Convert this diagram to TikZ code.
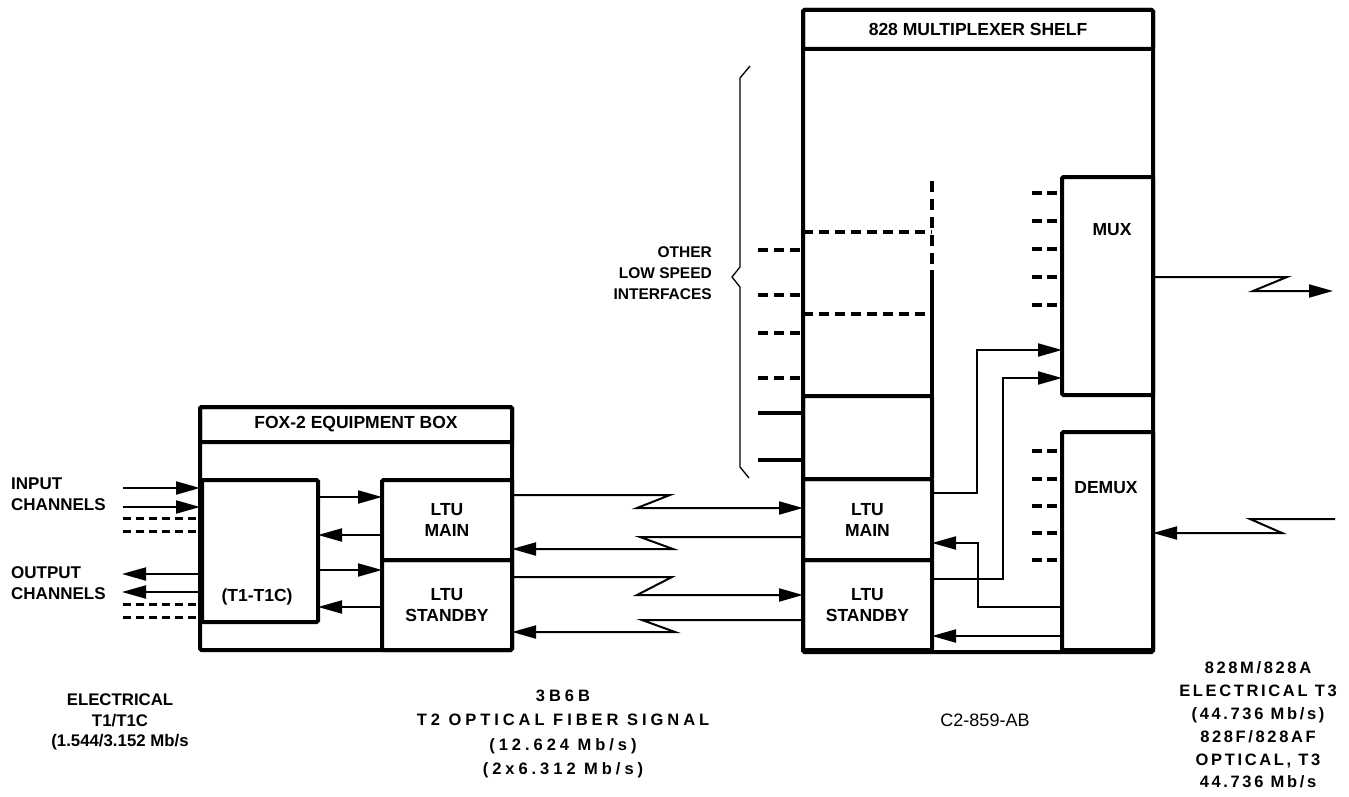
\documentclass[tikz,border=0pt]{standalone}
\usepackage{fontspec}
\setmainfont{Liberation Sans}
\newfontfamily\spacedA[LetterSpace=24]{Liberation Sans}
\newfontfamily\spacedB[LetterSpace=16]{Liberation Sans}
\usetikzlibrary{arrows.meta,calc}
\newcommand{\dlbl}{\fontsize{17.5}{21}\selectfont\bfseries}
\newcommand{\slbl}{\fontsize{17}{21}\selectfont\bfseries}
\begin{document}
\begin{tikzpicture}[x=1pt,y=-1pt,
  box/.style={draw, line width=4pt, rounded corners=1.5pt, inner sep=0pt, outer sep=0pt, anchor=north west, font=\dlbl, align=center},
  lbl/.style={font=\dlbl, align=center, inner sep=0pt},
  conn/.style={line width=2pt, line join=miter},
  arr/.style={conn, -{Triangle[length=24pt,width=13pt]}},
  stub/.style={line width=4pt, dash pattern=on 10pt off 6pt},
  thinstub/.style={line width=3pt, dash pattern=on 8pt off 5pt},
  solidstub/.style={line width=4pt}]
\useasboundingbox (0,0) rectangle (1349,797);
\fill[white] (0,0) rectangle (1349,797);

% ---------- FOX-2 box ----------
\node[box, minimum width=312pt, minimum height=243pt] (fox) at (200,407) {};
\node[box, minimum width=312pt, minimum height=35pt] (foxhead) at (200,407) {FOX-2 EQUIPMENT BOX};
\node[box, minimum width=116pt, minimum height=142pt] (t1) at (202,480) {};
\node[lbl] (t1lbl) at (257,597) {(T1-T1C)};
\node[box, minimum width=130pt, minimum height=80pt] (ltum) at (382,480) {LTU\\MAIN};
\node[box, minimum width=130pt, minimum height=90pt] (ltus) at (382,560) {LTU\\STANDBY};

% internal arrows
\draw[arr] ($(t1.north east)+(0,17)$) -- ($(ltum.north west)+(0,17)$);
\draw[arr] ($(ltum.north west)+(0,55)$) -- ($(t1.north east)+(0,55)$);
\draw[arr] ($(t1.north east)+(0,90)$) -- ($(ltus.north west)+(0,10)$);
\draw[arr] ($(ltus.north west)+(0,47)$) -- ($(t1.north east)+(0,127)$);

% input / output channels
\coordinate (in1) at (123,488);
\coordinate (in2) at (123,507);
\coordinate (din1) at (123,518);
\coordinate (din2) at (123,531);
\coordinate (out1) at (122,574);
\coordinate (out2) at (122,592);
\coordinate (dout1) at (123,604);
\coordinate (dout2) at (123,617);
\draw[arr] (in1) -- (in1 -| fox.west);
\draw[arr] (in2) -- (in2 -| fox.west);
\draw[thinstub] (din1) -- (din1 -| fox.west);
\draw[thinstub] (din2) -- (din2 -| fox.west);
\draw[arr] (out1 -| fox.west) -- (out1);
\draw[arr] (out2 -| fox.west) -- (out2);
\draw[thinstub] (dout1) -- (dout1 -| fox.west);
\draw[thinstub] (dout2) -- (dout2 -| fox.west);
\node[lbl, font=\slbl, anchor=west, align=left] (inlbl) at (11,494) {INPUT\\CHANNELS};
\node[lbl, font=\slbl, anchor=west, align=left] (outlbl) at (11,583) {OUTPUT\\CHANNELS};

% ---------- 828 shelf ----------
\node[box, minimum width=350pt, minimum height=642pt] (shelf) at (803,10) {};
\node[box, minimum width=350pt, minimum height=39pt] (shelfhead) at (803,10) {828 MULTIPLEXER SHELF};
\node[box, minimum width=129pt, minimum height=83pt] (slotbox) at (803,396) {};
\node[box, minimum width=129pt, minimum height=81pt] (sltum) at (803,479) {LTU\\MAIN};
\node[box, minimum width=129pt, minimum height=90pt] (sltus) at (803,560) {LTU\\STANDBY};
\node[box, minimum width=91pt, minimum height=218pt] (mux) at (1062,177) {};
\node[lbl] (muxlbl) at (1112,230) {MUX};
\node[box, minimum width=91pt, minimum height=218pt] (demux) at (1062,432) {};
\node[lbl] (demuxlbl) at (1106,488) {DEMUX};

% slot column
\draw[solidstub] (slotbox.north east) -- (932,270);
\draw[line width=4pt, dash pattern=on 11pt off 7pt] (932,264) -- (932,177);
\coordinate (h1) at (0,232);
\coordinate (h2) at (0,314);
\draw[stub] (h1 -| shelf.west) -- (h1 -| slotbox.east);
\draw[stub] (h2 -| shelf.west) -- (h2 -| slotbox.east);

% left stubs of shelf
\foreach \yy/\nm in {250/sa,295/sb,333/sc,378/sd}{
  \coordinate (\nm) at (758,\yy);
  \draw[stub] (\nm) -- (\nm -| shelf.west);
}
\foreach \yy/\nm in {413/se,460/sf}{
  \coordinate (\nm) at (758,\yy);
  \draw[solidstub] (\nm) -- (\nm -| shelf.west);
}
% brace
\draw[line width=1.3pt] (750,66) -- (740,78) -- (740,267) -- (732,277) -- (740,287) -- (740,467) -- (749,478);
\node[lbl, anchor=east, align=right, font=\fontsize{15.5}{21}\selectfont\bfseries] (other) at (712,273) {OTHER\\LOW SPEED\\INTERFACES};

% MUX / DEMUX stubs
\foreach \yy/\nm in {193/ma,221/mb,249/mc,277/md,305/me}{
  \coordinate (\nm) at (1032,\yy);
  \draw[stub, dash pattern=on 10pt off 5pt] (\nm) -- (\nm -| mux.west);
}
\foreach \yy/\nm in {451/da,479/db,506/dc,533/dd,560/de}{
  \coordinate (\nm) at (1032,\yy);
  \draw[stub, dash pattern=on 10pt off 5pt] (\nm) -- (\nm -| demux.west);
}

% shelf internal connectors
\draw[arr] ($(sltum.north east)+(0,14)$) -- (977,493) -- (977,350) -- ($(mux.north west)+(0,173)$);
\draw[arr] ($(sltus.north east)+(0,19)$) -- (1003,579) -- (1003,378) -- ($(mux.north west)+(0,201)$);
\draw[arr] ($(demux.north west)+(0,175)$) -- (978,607) -- (978,543) -- ($(sltum.north east)+(0,64)$);
\draw[arr] ($(demux.north west)+(0,204)$) -- ($(sltus.north east)+(0,76)$);

% fibre links (zigzags)
\draw[arr] ($(ltum.north east)+(0,15)$) -- (670,495) -- (637,508) -- ($(sltum.north west)+(0,29)$);
\draw[arr] ($(sltum.north west)+(0,58)$) -- (640,537) -- (673,549) -- ($(ltum.north east)+(0,69)$);
\draw[arr] ($(ltus.north east)+(0,17)$) -- (672,577) -- (637,595) -- ($(sltus.north west)+(0,35)$);
\draw[arr] ($(sltus.north west)+(0,60)$) -- (642,620) -- (675,632) -- ($(ltus.north east)+(0,72)$);

% T3 links
\coordinate (mo) at (1333,291);
\coordinate (di) at (1335,519);
\draw[arr] ($(mux.north east)+(0,100)$) -- (1287,277) -- (1253,291) -- (mo);
\draw[arr] (di) -- (1250,519) -- (1282,533) -- ($(demux.north east)+(0,101)$);

% bottom captions
\node[lbl, font=\fontsize{16.8}{20.5}\selectfont\bfseries] (capa) at (120,722) {ELECTRICAL\\T1/T1C\\(1.544/3.152 Mb/s};
\node[lbl, font=\spacedA\fontsize{16.5}{24.5}\selectfont\bfseries] (capb) at (563,734) {3B6B\\T2 OPTICAL FIBER SIGNAL\\(12.624 Mb/s)\\(2x6.312 Mb/s)};
\node[lbl, font=\fontsize{18}{21}\selectfont] (capc) at (985,720) {C2-859-AB};
\node[lbl, font=\spacedB\fontsize{16.5}{22.8}\selectfont\bfseries] (capd) at (1258,725) {828M/828A\\ELECTRICAL T3\\(44.736 Mb/s)\\828F/828AF\\OPTICAL, T3\\44.736 Mb/s};
\end{tikzpicture}
\end{document}
